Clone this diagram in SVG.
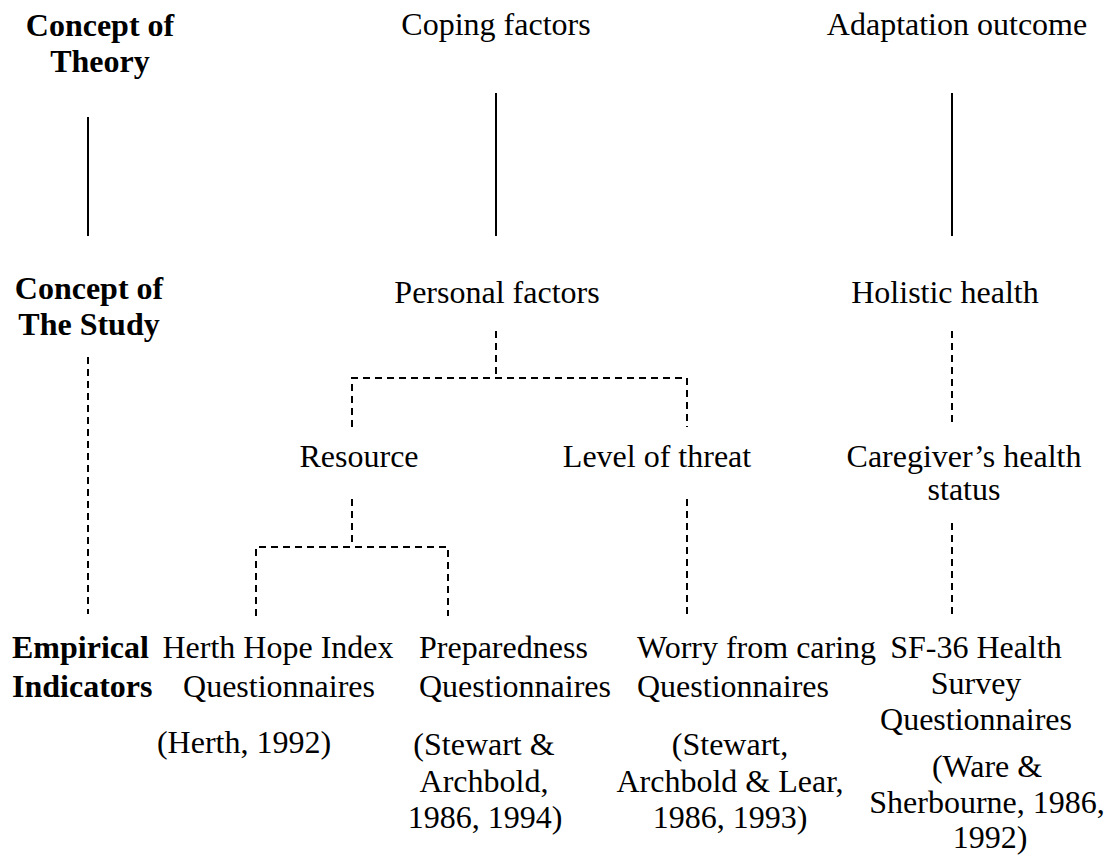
<svg xmlns="http://www.w3.org/2000/svg" width="1116" height="860" viewBox="0 0 1116 860" font-family="'Liberation Serif', serif" font-size="32">
<style>
text{font-family:'Liberation Serif',serif;font-size:32px;fill:#000}
.b{font-weight:bold}
.m{text-anchor:middle}
.solid{stroke:#000;stroke-width:2;fill:none}
.dash{stroke:#000;stroke-width:2;fill:none;stroke-dasharray:7 5}
</style>
<rect width="1116" height="860" fill="#fff"/>
<g id="connectors">
<line class="solid" x1="88" y1="117" x2="88" y2="236"/>
<line class="solid" x1="496" y1="93" x2="496" y2="236"/>
<line class="solid" x1="952" y1="93" x2="952" y2="236"/>
<line class="dash" x1="88" y1="357" x2="88" y2="614"/>
<line class="dash" x1="496" y1="331" x2="496" y2="378"/>
<polyline class="dash" points="352,427 352,378 687,378 687,427"/>
<line class="dash" x1="352" y1="499" x2="352" y2="547"/>
<polyline class="dash" points="256,616 256,547 448,547 448,616"/>
<line class="dash" x1="687" y1="499" x2="687" y2="616"/>
<line class="dash" x1="952" y1="331" x2="952" y2="423"/>
<line class="dash" x1="952" y1="523" x2="952" y2="614"/>
</g>
<g id="concept-theory"><text class="b m" x="100" y="36">Concept of</text><text class="b m" x="100" y="72">Theory</text></g>
<g id="coping-factors"><text class="m" x="496" y="35">Coping factors</text></g>
<g id="adaptation-outcome"><text class="m" x="957" y="35">Adaptation outcome</text></g>
<g id="concept-study"><text class="b m" x="89" y="299">Concept of</text><text class="b m" x="89" y="335">The Study</text></g>
<g id="personal-factors"><text class="m" x="497" y="303">Personal factors</text></g>
<g id="holistic-health"><text class="m" x="945" y="303">Holistic health</text></g>
<g id="resource"><text class="m" x="359" y="467">Resource</text></g>
<g id="level-of-threat"><text class="m" x="657" y="467">Level of threat</text></g>
<g id="caregiver-health"><text class="m" x="964" y="467">Caregiver’s health</text><text class="m" x="964" y="500">status</text></g>
<g id="empirical-indicators"><text class="b" x="12" y="658">Empirical</text><text class="b" x="12" y="697">Indicators</text></g>
<g id="herth"><text class="m" x="278" y="658">Herth Hope Index</text><text class="m" x="279" y="697">Questionnaires</text><text class="m" x="244" y="753">(Herth, 1992)</text></g>
<g id="preparedness"><text x="419" y="658">Preparedness</text><text x="419" y="697">Questionnaires</text><text class="m" x="484" y="755">(Stewart &amp;</text><text class="m" x="484" y="792">Archbold,</text><text class="m" x="485" y="828">1986, 1994)</text></g>
<g id="worry"><text x="637" y="658">Worry from caring</text><text x="637" y="697">Questionnaires</text><text class="m" x="730" y="755">(Stewart,</text><text class="m" x="730" y="792">Archbold &amp; Lear,</text><text class="m" x="730" y="828">1986, 1993)</text></g>
<g id="sf36"><text class="m" x="976" y="658">SF-36 Health</text><text class="m" x="976" y="694">Survey</text><text class="m" x="976" y="730">Questionnaires</text><text class="m" x="987" y="777">(Ware &amp;</text><text class="m" x="987" y="813">Sherbourne, 1986,</text><text class="m" x="990" y="848">1992)</text></g>
</svg>
